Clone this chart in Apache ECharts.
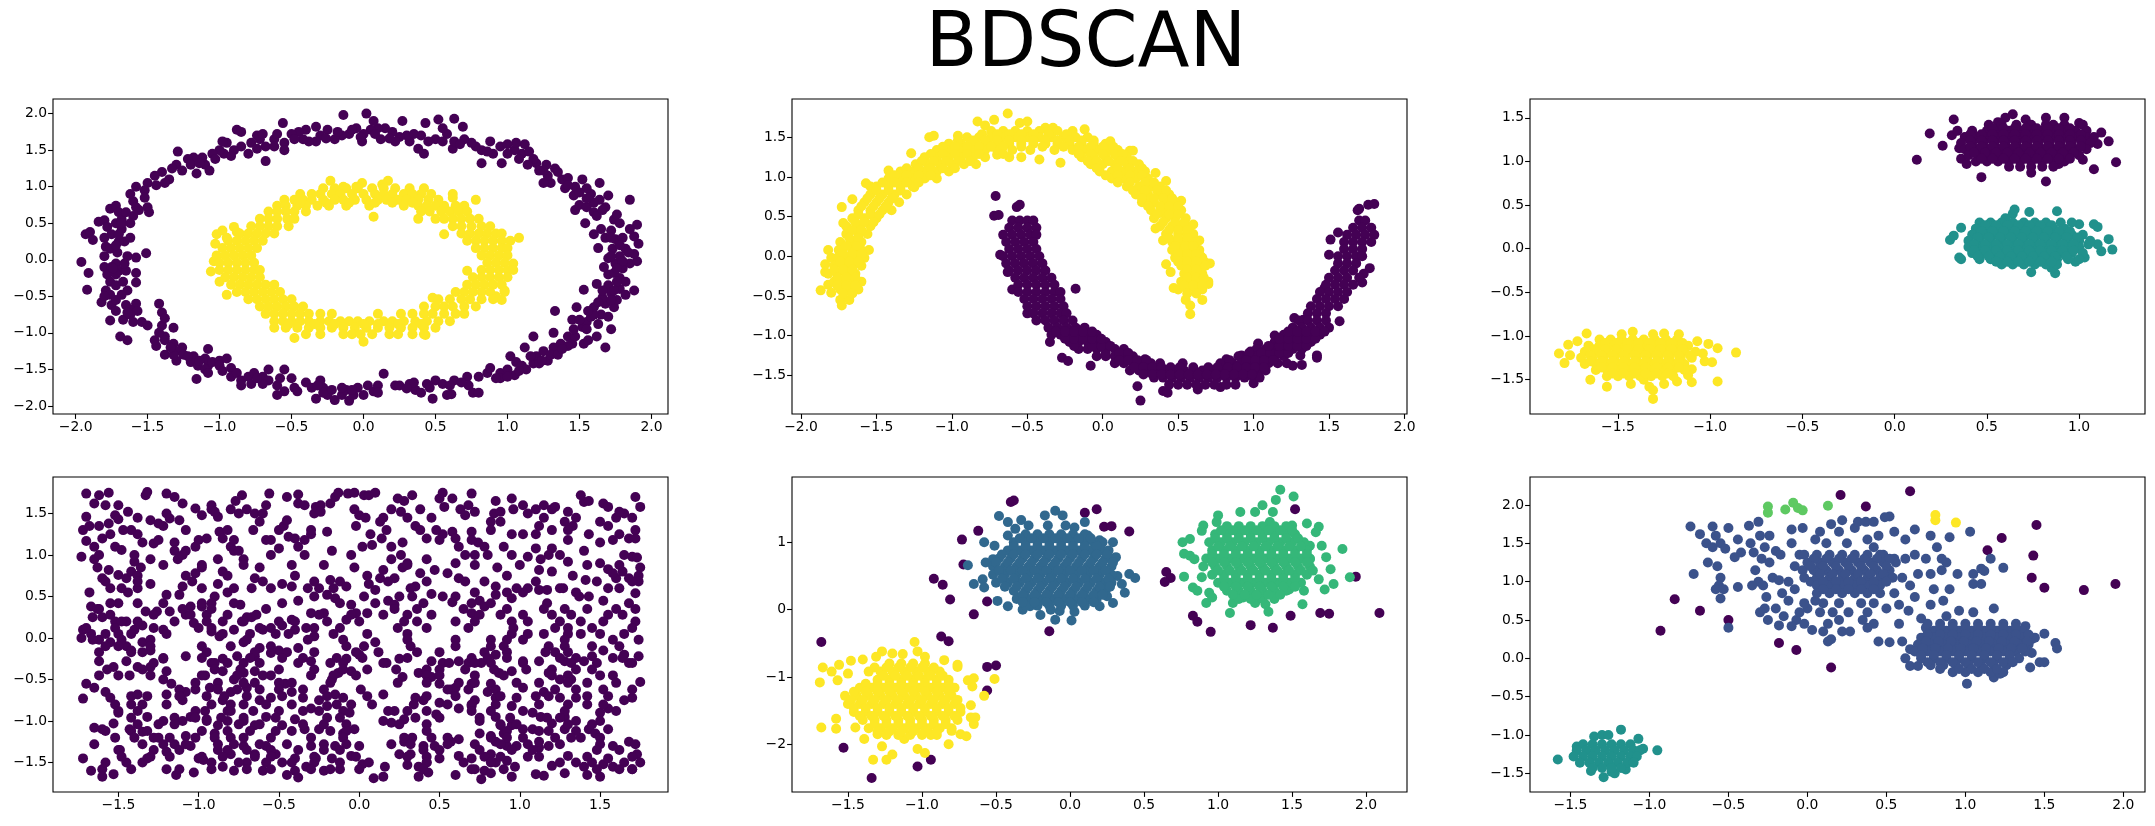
<!DOCTYPE html>
<html><head><meta charset="utf-8">
<script src="https://cdn.jsdelivr.net/npm/echarts@6/dist/echarts.min.js"></script>
<style>html,body{margin:0;padding:0;background:#fff}#c{width:2155px;height:826px}</style></head>
<body><div id="c"></div>
<script>
const titleText="BDSCAN";
const VIOLET="#440154",YELLOW="#fde725",TEAL="#21918c",BLUE5="#31688e",GREEN5="#35b779",BLUE6="#3b528b",GREEN6="#5ec962";

const circlesOuter=[[-1.96,-0.03],[-1.91,-0.18],[-1.92,-0.41],[-1.93,0.35],[-1.9,0.38],[-1.88,0.27],[-1.84,0.52],[-1.8,0.54],[-1.76,0.7],[-1.72,0.74],[-1.7,0.65],[-1.72,0.5],[-1.78,0.45],[-1.8,0.3],[-1.75,0.35],[-1.68,0.42],[-1.66,0.25],[-1.62,0.3],[-1.79,0.18],[-1.8,0.05],[-1.76,0.15],[-1.71,0.1],[-1.64,0.05],[-1.58,0.03],[-1.51,0.09],[-1.8,-0.1],[-1.78,-0.2],[-1.72,-0.05],[-1.7,-0.15],[-1.65,-0.15],[-1.58,-0.18],[-1.58,-0.31],[-1.76,-0.3],[-1.72,-0.35],[-1.67,-0.3],[-1.64,-0.42],[-1.79,-0.42],[-1.76,-0.48],[-1.82,-0.58],[-1.75,-0.62],[-1.65,-0.62],[-1.58,-0.6],[-1.62,-0.68],[-1.57,-0.7],[-1.42,-0.6],[-1.76,-0.83],[-1.67,-0.82],[-1.6,-0.85],[-1.54,-0.85],[-1.5,-0.9],[-1.69,-1.05],[-1.64,-1.1],[-1.4,-0.72],[-1.4,-0.9],[-1.38,-0.8],[-1.32,-0.93],[-1.38,-1.05],[-1.44,-1.18],[-1.38,-1.1],[-1.32,-1.15],[-1.26,-1.2],[-1.38,-1.3],[-1.3,-1.25],[-1.25,-1.3],[-1.3,-1.38],[-1.2,-1.4],[-1.15,-1.45],[-1.08,-1.45],[-1.1,-1.35],[-1.08,-1.22],[-1.1,-1.5],[-1.05,-1.4],[-1.0,-1.38],[-1.16,-1.63],[-1.08,-1.55],[-0.95,-1.35],[-0.92,-1.48],[-0.92,-1.6],[-0.88,-1.55],[-0.85,-1.65],[-0.85,-1.72],[-0.8,-1.6],[-0.76,-1.55],[-0.78,-1.7],[-0.7,-1.6],[-0.66,-1.65],[-0.66,-1.5],[-0.6,-1.72],[-0.55,-1.8],[-0.6,-1.85],[-0.55,-1.5],[-0.5,-1.62],[-0.48,-1.75],[-0.46,-1.8],[-0.4,-1.68],[-0.36,-1.75],[-0.33,-1.9],[-0.3,-1.65],[-0.28,-1.75],[-0.25,-1.85],[-0.2,-1.92],[-0.15,-1.85],[-0.12,-1.78],[-0.1,-1.93],[-0.07,-1.85],[-0.04,-1.75],[0,-1.85],[0.03,-1.72],[0.07,-1.8],[0.1,-1.72],[0.14,-1.56],[0.22,-1.72],[0.25,-1.72],[0.32,-1.7],[0.36,-1.78],[0.4,-1.82],[0.44,-1.7],[0.48,-1.9],[0.5,-1.65],[0.55,-1.7],[0.58,-1.85],[0.61,-1.84],[0.63,-1.65],[0.72,-1.6],[0.73,-1.72],[0.76,-1.82],[0.8,-1.82],[0.8,-1.6],[0.86,-1.55],[0.88,-1.48],[0.95,-1.55],[1.0,-1.5],[1.02,-1.32],[1.06,-1.4],[1.1,-1.45],[1.05,-1.58],[1.13,-1.5],[1.12,-1.2],[1.18,-1.42],[1.2,-1.32],[1.25,-1.25],[1.28,-1.38],[1.32,-1.2],[1.3,-1.3],[1.37,-1.15],[1.18,-1.05],[1.32,-1.0],[1.33,-0.7],[1.42,-1.05],[1.45,-1.15],[1.47,-1.05],[1.53,-1.15],[1.56,-1.1],[1.45,-0.82],[1.48,-0.65],[1.52,-0.92],[1.55,-0.85],[1.58,-0.78],[1.6,-0.65],[1.63,-0.88],[1.65,-0.75],[1.62,-1.05],[1.68,-1.2],[1.72,-0.95],[1.68,-0.6],[1.7,-0.78],[1.74,-0.65],[1.76,-0.55],[1.53,-0.41],[1.62,-0.33],[1.7,-0.35],[1.72,-0.45],[1.78,-0.4],[1.82,-0.48],[1.88,-0.42],[1.67,-0.1],[1.7,-0.2],[1.74,-0.18],[1.78,-0.25],[1.82,-0.3],[1.8,-0.12],[1.75,-0.05],[1.7,0.02],[1.85,-0.05],[1.9,-0.02],[1.88,0.08],[1.91,0.22],[1.82,0.15],[1.73,0.15],[1.63,0.16],[1.68,0.3],[1.75,0.28],[1.8,0.3],[1.88,0.32],[1.9,0.48],[1.85,0.42],[1.6,0.35],[1.65,0.42],[1.54,0.5],[1.47,0.68],[1.5,0.75],[1.55,0.72],[1.6,0.65],[1.68,0.72],[1.62,0.6],[1.74,0.55],[1.76,0.62],[1.78,0.5],[1.85,0.82],[1.7,0.88],[1.64,0.82],[1.58,0.9],[1.52,1.1],[1.64,1.05],[1.55,0.98],[1.46,0.88],[1.47,1.0],[1.4,0.98],[1.38,1.1],[1.3,1.05],[1.25,1.05],[1.28,1.15],[1.33,1.25],[1.27,1.3],[1.2,1.32],[1.18,1.38],[1.1,1.45],[1.05,1.5],[1.12,1.58],[1.0,1.45],[1.06,1.6],[0.96,1.32],[0.95,1.55],[0.9,1.45],[0.82,1.32],[0.82,1.5],[0.78,1.55],[0.75,1.6],[0.7,1.65],[0.62,1.52],[0.63,1.62],[0.58,1.72],[0.5,1.65],[0.52,1.92],[0.55,1.8],[0.63,1.93],[0.69,1.82],[0.42,1.45],[0.38,1.52],[0.4,1.7],[0.43,1.87],[0.32,1.62],[0.27,1.9],[0.3,1.7],[0.25,1.68],[0.2,1.75],[0.15,1.8],[0.1,1.8],[0.12,1.65],[0.05,1.78],[0,1.72],[-0.01,1.62],[0.02,2.0],[-0.14,1.98],[0.07,1.9],[-0.05,1.8],[-0.1,1.72],[-0.15,1.7],[-0.2,1.65],[-0.25,1.78],[-0.3,1.7],[-0.33,1.62],[-0.38,1.62],[-0.33,1.82],[-0.4,1.78],[-0.45,1.75],[-0.5,1.72],[-0.56,1.87],[-0.55,1.6],[-0.62,1.65],[-0.55,1.5],[-0.6,1.72],[-0.68,1.55],[-0.72,1.65],[-0.74,1.7],[-0.68,1.35],[-0.8,1.45],[-0.88,1.78],[-0.85,1.75],[-0.85,1.55],[-0.9,1.5],[-0.95,1.6],[-0.97,1.45],[-1.0,1.5],[-1.05,1.45],[-1.1,1.3],[-1.07,1.22],[-1.12,1.4],[-1.18,1.4],[-1.22,1.38],[-1.2,1.3],[-1.16,1.18],[-1.29,1.48],[-1.3,1.3],[-1.35,1.1],[-1.4,1.2],[-1.45,1.15],[-1.38,1.05],[-1.33,1.25],[-1.5,1.05],[-1.52,0.95],[-1.58,1.0],[-1.6,0.8],[-1.56,0.68],[-1.6,0.6],[-1.5,0.72],[-1.49,0.65],[-1.62,0.9],[-1.68,0.55],[-1.65,0.65],[-0.98,1.62],[-0.78,1.6],[-0.7,1.72],[-0.42,1.65],[-0.18,1.75],[-0.02,1.68],[0.22,1.62],[0.45,1.62],[0.88,1.62],[1.0,1.58],[1.15,1.48],[1.25,1.22],[1.35,1.2],[1.42,1.12],[1.6,0.78],[1.72,0.4],[1.84,0.1],[1.78,0.05],[1.8,-0.02],[1.76,-0.3],[1.74,-0.42],[1.72,-0.55],[1.66,-0.52],[1.6,-0.75],[1.55,-0.95],[1.42,-1.18],[1.35,-1.3],[1.22,-1.42],[1.08,-1.52],[0.95,-1.62],[0.6,-1.72],[0.35,-1.68],[0.1,-1.82],[-0.15,-1.75],[-0.28,-1.82],[-0.7,-1.7],[-1.0,-1.45],[-1.18,-1.32],[-1.32,-1.3],[-1.45,-1.1],[-1.62,-0.75],[-1.72,-0.55],[-1.72,-0.2],[-1.75,-0.1],[-1.7,0.25],[-1.68,0.5],[-1.26,1.22],[-1.14,1.32],[-1.03,1.38],[-0.92,1.42],[-0.74,1.52],[-0.62,1.55],[-0.48,1.65],[-0.26,1.66],[-0.08,1.78],[0.08,1.72],[0.18,1.66],[0.35,1.72],[0.55,1.62],[0.67,1.58],[0.86,1.48],[1.08,1.38],[1.14,1.3],[1.22,1.22],[1.42,1.02],[1.5,0.92],[1.55,0.84],[1.66,0.68],[1.72,0.3],[1.78,0.2],[1.72,0.05],[1.76,-0.12],[1.66,-0.42],[1.63,-0.58],[1.56,-0.7],[1.5,-0.82],[1.46,-0.95],[1.38,-1.22],[1.24,-1.38],[1.16,-1.32],[1.0,-1.6],[0.92,-1.62],[0.68,-1.68],[0.46,-1.75],[0.3,-1.76],[-0.08,-1.78],[-0.22,-1.78],[-0.32,-1.72],[-0.58,-1.62],[-0.74,-1.62],[-0.98,-1.52],[-1.14,-1.38],[-1.22,-1.32],[-1.34,-1.2],[-1.42,-1.0],[-1.64,-0.72],[-1.72,-0.7],[-1.8,-0.5],[-1.68,-0.48],[-1.74,-0.12],[-1.66,-0.05],[-1.72,0.2],[-1.7,0.35],[-1.62,0.5],[-1.58,0.72],[-1.52,0.85],[-1.44,1.02]];
const circlesInner=[[-1.06,-0.16],[-1.04,-0.02],[-1.03,0.22],[-1.02,0.35],[-0.98,0.4],[-0.95,0.3],[-0.9,0.45],[-0.88,0.38],[-1.0,-0.3],[-0.95,-0.48],[-0.48,-1.07],[0,-1.12],[0.17,1.08],[0.13,1.03],[-0.01,1.05],[-0.23,1.08],[0.07,0.59],[0.56,0.35],[0.78,0.82],[0.62,0.85],[1.08,0.3],[1.04,-0.05],[0.98,-0.42],[0.96,-0.55],[0.92,-0.5],[0.72,-0.15],[0.48,-0.52],[0.43,-1.03],[-0.14,1.0],[-0.05,1.0]];
const circlesInnerRows=[[.98,[-.28,-.2,-.12,-.04,.06,.14,.22,.32,.42]],[.9,[-.44,-.36,-.3,-.22,-.16,-.08,0,.08,.14,.2,.28,.34,.4,.47,.62]],[.82,[-.55,-.48,-.42,-.36,-.28,-.2,-.14,-.06,.02,.1,.16,.24,.3,.38,.45,.52]],[.74,[-.6,-.54,-.46,-.4,-.32,-.24,-.12,.04,.28,.38,.44,.5,.56,.64,.7]],[.66,[-.66,-.6,-.54,-.48,-.4,.4,.46,.54,.6,.66,.72]],[.56,[-.72,-.66,-.6,-.53,-.48,.38,.5,.56,.62,.68,.74,.8]],[.46,[-.78,-.72,-.66,-.6,-.52,.62,.68,.75,.82,.88]],[.36,[-.86,-.8,-.74,-.68,-.62,.68,.74,.8,.86,.92,.96]],[.26,[-.94,-.88,-.82,-.76,-.7,.72,.78,.84,.9,.96,1.02]],[.16,[-.98,-.92,-.86,-.8,-.74,.78,.84,.9,.96,1.0]],[.06,[-1.02,-.96,-.9,-.84,-.78,.82,.88,.94,1.0]],[-.04,[-1.0,-.94,-.88,-.82,-.76,.86,.92,.98]],[-.14,[-1,-.94,-.88,-.82,-.76,-.72,.82,.88,.94,1.0,1.04]],[-.24,[-.96,-.9,-.84,-.78,-.72,.76,.82,.88,.94,1.0]],[-.34,[-.92,-.86,-.8,-.74,-.68,-.62,.72,.78,.84,.9,.96]],[-.44,[-.88,-.82,-.76,-.7,-.64,-.58,.64,.7,.76,.82,.88,.98]],[-.54,[-.8,-.74,-.68,-.62,-.56,-.5,.52,.6,.68,.74,.82,.9]],[-.64,[-.72,-.66,-.6,-.54,-.48,-.42,.42,.5,.56,.62,.7,.78]],[-.74,[-.68,-.62,-.56,-.5,-.44,-.38,-.3,-.22,.1,.26,.34,.42,.48,.56,.64,.7]],[-.84,[-.62,-.56,-.5,-.44,-.38,-.3,-.24,-.16,-.1,-.04,.04,.14,.2,.28,.36,.44,.52,.6]],[-.93,[-.62,-.54,-.46,-.38,-.3,-.22,-.14,-.06,.02,.1,.18,.26,.34,.42,.5]],[-1.02,[-.4,-.3,-.14,-.08,-.02,.06,.18,.24,.34,.42]],[.78,[-.44,-.26,-.1,.08,.2,.34]],[-.88,[-.52,-.34,-.2,0,.1,.24,.4]]];
const moonYellow=[[-1.87,-0.43],[-1.82,-0.36],[-1.8,-0.46],[-1.84,-0.2],[-1.84,-0.1],[-1.8,-0.02],[-1.82,0.08],[-1.75,0.08],[-1.74,-0.55],[-1.73,-0.62],[-1.68,-0.55],[-1.72,0.42],[-1.73,0.62],[-1.66,0.72],[-1.54,0.88],[-1.57,0.92],[-1.42,1.08],[-1.35,0.68],[-1.27,1.3],[-1.25,0.87],[-1.15,1.5],[-1.12,1.52],[-0.96,1.52],[-0.83,1.7],[-0.78,1.65],[-0.72,1.72],[-0.63,1.8],[-0.55,1.68],[-0.5,1.7],[-0.38,1.62],[-0.33,1.62],[-0.12,1.6],[-0.28,1.18],[-0.54,1.25],[-0.7,1.28],[-0.42,1.22],[0.05,1.45],[0.18,1.33],[0.2,1.33],[0.25,0.78],[0.3,0.7],[0.35,1.05],[0.38,0.55],[0.42,0.95],[0.4,0.2],[0.35,0.35],[0.52,0.7],[0.6,0.4],[0.42,-0.1],[0.45,-0.2],[0.47,-0.4],[0.55,-0.55],[0.58,-0.62],[0.58,-0.73],[0.66,-0.55],[0.71,-0.09],[0.7,-0.35],[0.64,0.2],[0.65,0.0],[0.68,-0.08]];
const moonYellowRows=[[1.58,[-.74,-.66,-.58,-.5,-.42,-.3,-.2]],[1.5,[-.9,-.82,-.74,-.66,-.58,-.5,-.42,-.34,-.26,-.18,-.1]],[1.42,[-1.02,-.94,-.86,-.78,-.7,-.62,-.54,-.46,-.38,-.3,-.22,-.14,-.06,.02]],[1.34,[-1.1,-1.02,-.94,-.86,-.78,-.7,-.6,-.48,-.32,-.2,-.12,-.04,.04,.1]],[1.25,[-1.18,-1.1,-1.02,-.94,-.86,-.78,-.62,-.14,-.06,.02,.1,.16]],[1.16,[-1.24,-1.16,-1.08,-1,-.92,-.84,-.08,0,.08,.16,.24]],[1.07,[-1.34,-1.26,-1.18,-1.1,-1.02,-.02,.06,.14,.22,.28]],[.98,[-1.42,-1.34,-1.26,-1.18,-1.1,.06,.14,.22,.3]],[.88,[-1.5,-1.42,-1.34,-1.26,.16,.24,.32,.38]],[.78,[-1.54,-1.46,-1.38,-1.3,.22,.3,.38,.44]],[.68,[-1.58,-1.5,-1.42,.26,.34,.42,.48]],[.58,[-1.62,-1.54,-1.46,-1.4,.32,.4,.46,.52]],[.48,[-1.66,-1.58,-1.5,.34,.42,.48,.55]],[.38,[-1.7,-1.62,-1.54,.38,.46,.52,.58]],[.28,[-1.7,-1.62,-1.56,.42,.5,.56,.6]],[.18,[-1.74,-1.66,-1.6,.46,.52,.58,.62]],[.08,[-1.74,-1.66,-1.6,-1.55,.46,.52,.58,.64]],[-.02,[-1.76,-1.7,-1.64,-1.58,.48,.54,.6,.66]],[-.12,[-1.78,-1.72,-1.66,-1.6,.52,.58,.64,.68]],[-.22,[-1.82,-1.76,-1.7,-1.64,.54,.6,.66]],[-.32,[-1.78,-1.72,-1.66,-1.6,.52,.58,.64,.7]],[-.42,[-1.74,-1.68,-1.62,.5,.56,.62,.66]],[1.54,[-.8,-.7,-.62,-.54,-.46,-.36,-.24]],[1.46,[-.96,-.86,-.78,-.7,-.62,-.54,-.46,-.38,-.3,-.22,-.14,-.06]],[1.38,[-1.06,-.98,-.9,-.82,-.74,-.66,-.54,-.4,-.26,-.16,-.08,0,.07]],[1.29,[-1.14,-1.06,-.98,-.9,-.82,-.66,-.16,-.08,0,.08,.13]],[1.2,[-1.2,-1.12,-1.04,-.96,-.88,-.1,-.04,.04,.12,.2]],[1.11,[-1.3,-1.22,-1.14,-1.06,-.98,-.04,.1,.18,.26]],[1.02,[-1.38,-1.3,-1.22,-1.14,.02,.1,.18,.26]],[.93,[-1.46,-1.38,-1.3,-1.22,.1,.18,.28,.34]],[.83,[-1.5,-1.42,-1.34,.2,.28,.36,.42]],[.73,[-1.56,-1.48,-1.4,.26,.34,.4,.46]],[.63,[-1.6,-1.52,-1.44,.3,.38,.44,.5]],[.53,[-1.62,-1.54,-1.48,.36,.44,.5]],[.43,[-1.64,-1.58,-1.52,.4,.48,.54]],[.33,[-1.66,-1.6,.44,.5,.56]],[.23,[-1.68,-1.62,.44,.5,.56]],[.13,[-1.7,-1.63,.48,.55,.6]],[.03,[-1.72,-1.66,-1.6,.5,.56,.62]],[-.07,[-1.74,-1.68,-1.62,.5,.56,.62]],[-.17,[-1.78,-1.72,-1.66,.56,.62]],[-.27,[-1.76,-1.7,-1.64,.56,.62,.67]],[-.37,[-1.76,-1.7,-1.64,.54,.6,.66]],[-.47,[-1.72,-1.66,.56,.62]]];
const moonViolet=[[-0.71,0.76],[-0.72,0.51],[-0.69,0.52],[-0.57,0.62],[-0.55,0.65],[-0.18,-0.41],[-0.68,0.02],[-0.63,-0.2],[-0.6,-0.42],[-0.5,-0.72],[-0.35,-1.08],[-0.27,-1.28],[-0.23,-1.32],[-0.08,-1.38],[0.23,-1.64],[0.25,-1.82],[0.4,-1.7],[0.43,-1.72],[0.63,-1.68],[0.78,-1.65],[1.0,-1.6],[1.22,-1.35],[1.26,-1.38],[1.32,-1.37],[1.31,-1.25],[1.42,-1.28],[1.42,-1.25],[1.27,-0.78],[1.33,-0.8],[1.51,0.21],[1.56,0.3],[1.7,0.6],[1.69,0.58],[1.76,0.65],[1.8,0.66],[1.77,-0.15],[1.73,-0.22],[1.72,-0.33],[1.5,0.02],[1.47,-0.4],[1.57,-0.82],[0.82,-1.3],[0.92,-1.25],[0.98,-1.2],[1.03,-1.1],[1.14,-1.0],[0.53,-1.35],[0.28,-1.3]];
const moonVioletRows=[[.45,[-.6,-.55,-.5,-.46,1.7,1.74]],[.36,[-.62,-.56,-.5,-.44,1.66,1.72,1.78]],[.27,[-.66,-.6,-.54,-.48,-.44,1.62,1.68,1.74,1.8]],[.18,[-.64,-.58,-.52,-.46,1.6,1.66,1.72,1.78]],[.09,[-.62,-.56,-.5,-.44,1.6,1.66,1.72]],[0,[-.66,-.6,-.54,-.48,-.42,1.56,1.62,1.68,1.72]],[-.09,[-.64,-.58,-.52,-.46,-.4,1.56,1.62,1.68]],[-.18,[-.62,-.56,-.5,-.44,-.38,1.54,1.6,1.66]],[-.27,[-.58,-.52,-.46,-.4,-.34,1.5,1.56,1.62,1.7]],[-.36,[-.56,-.5,-.44,-.38,-.32,1.48,1.54,1.6,1.66]],[-.45,[-.56,-.5,-.44,-.38,-.32,-.28,1.44,1.5,1.56,1.62]],[-.54,[-.52,-.46,-.4,-.34,-.28,1.42,1.48,1.54,1.6]],[-.63,[-.5,-.44,-.38,-.32,-.26,1.38,1.44,1.5,1.56]],[-.72,[-.46,-.4,-.34,-.28,-.24,1.36,1.42,1.48]],[-.81,[-.44,-.38,-.32,-.26,-.2,1.3,1.36,1.42,1.48]],[-.9,[-.36,-.3,-.24,-.18,-.12,1.26,1.32,1.38,1.44,1.5]],[-.99,[-.34,-.28,-.22,-.16,-.1,-.04,1.2,1.26,1.32,1.38,1.44]],[-1.08,[-.22,-.16,-.1,-.04,.02,1.14,1.2,1.26,1.32,1.38]],[-1.17,[-.16,-.1,-.04,.02,.08,.14,1.02,1.08,1.14,1.2,1.26,1.32]],[-1.26,[-.04,.02,.08,.14,.2,.9,.96,1.02,1.08,1.14,1.2]],[-1.35,[.08,.14,.2,.26,.32,.38,.78,.86,.92,.98,1.04,1.1,1.16]],[-1.44,[.18,.24,.3,.36,.42,.48,.54,.6,.66,.72,.8,.86,.92,.98,1.04,1.08]],[-1.53,[.34,.4,.46,.52,.58,.64,.7,.76,.82,.88,.94,1.0,1.04]],[-1.62,[.44,.5,.56,.62,.68,.74,.82,.88]],[-1.22,[.02,.11,.17,.97,1.05,1.11,1.17,1.23]],[-1.31,[.11,.17,.23,.29,.84,.95,1.01,1.07,1.13]],[-1.4,[.21,.27,.33,.39,.45,.51,.6,.7,.76,.83,.89,.95,1.01,1.07]],[-1.49,[.27,.33,.39,.45,.51,.57,.63,.69,.75,.81,.87,.93,.99]],[-1.13,[-.19,-.07,-.01,.05,1.1,1.17,1.23,1.29,1.35]],[-1.04,[-.25,-.19,-.13,-.07,-.01,1.17,1.23,1.29,1.35,1.41]],[-.95,[-.31,-.25,-.19,-.13,-.07,1.23,1.29,1.35,1.41,1.47]]];
const blobs3Violet=[[0.12,1.02],[0.19,1.32],[0.26,1.18],[0.32,1.48],[0.31,1.3],[0.34,1.35],[0.35,1.15],[0.36,1.03],[0.39,0.97],[0.47,0.82],[0.51,1.42],[0.56,1.45],[0.6,1.5],[0.64,1.54],[0.71,1.48],[0.74,0.87],[0.82,1.5],[0.82,0.77],[0.92,1.5],[1.0,1.44],[1.08,0.91],[1.12,1.33],[1.16,1.23],[1.2,0.99],[1.1,1.2],[1.02,1.02],[0.89,0.97]];
const blobs3VioletRows=[[1.42,[.58,.66,.74,.82,.86,.92,1.02]],[1.35,[.42,.5,.56,.62,.68,.74,.8,.86,.92,.98,1.04]],[1.28,[.38,.44,.5,.56,.62,.68,.74,.8,.86,.92,.98,1.04,1.08]],[1.21,[.36,.42,.48,.54,.6,.66,.72,.78,.84,.9,.96,1.02,1.06]],[1.14,[.38,.44,.5,.56,.62,.68,.74,.8,.86,.92,.98,1.04]],[1.07,[.4,.46,.52,.58,.64,.7,.76,.82,.88,.94,1.0]],[1.0,[.44,.5,.56,.62,.68,.74,.8,.86,.92]],[.94,[.62,.68,.74,.8,.86]],[1.38,[.53,.59,.65,.71,.77,.83,.89,.95]],[1.31,[.41,.47,.53,.59,.65,.71,.77,.83,.89,.95,1.01]],[1.24,[.41,.47,.53,.59,.65,.71,.77,.83,.89,.95,1.01]],[1.17,[.41,.47,.53,.59,.65,.71,.77,.83,.89,.95,1.01]],[1.1,[.43,.49,.55,.61,.67,.73,.79,.85,.91,.97]],[1.03,[.47,.53,.59,.65,.71,.77,.83,.89,.95]]];
const blobs3Teal=[[0.3,0.1],[0.32,0.15],[0.36,0.24],[0.35,-0.1],[0.36,-0.12],[0.64,0.4],[0.65,0.45],[0.73,0.42],[0.74,-0.27],[0.87,-0.28],[0.88,0.43],[0.98,-0.15],[1.0,0.28],[1.08,0.28],[1.1,0.25],[1.12,-0.03],[1.16,0.11],[1.18,-0.01],[1.1,0.05],[1.03,-0.1],[1.05,0.05],[0.6,0.35],[0.85,-0.22]];
const blobs3TealRows=[[.3,[.46,.52,.58,.64,.7,.76,.82,.9,.96]],[.23,[.44,.5,.56,.62,.68,.74,.8,.86,.92]],[.16,[.42,.48,.54,.6,.66,.72,.78,.84,.9,.96,1.02]],[.09,[.4,.46,.52,.58,.64,.7,.76,.82,.88,.94,1.0,1.06]],[.02,[.4,.46,.52,.58,.64,.7,.76,.82,.88,.94,1.0]],[-.05,[.42,.48,.54,.6,.66,.72,.78,.84,.9,.96,1.02]],[-.12,[.46,.52,.58,.64,.7,.76,.82,.88,.94,1.0]],[-.18,[.58,.64,.7,.76,.82,.88]],[.27,[.49,.55,.61,.67,.73,.79,.85]],[.2,[.47,.53,.59,.65,.71,.77,.83,.89,.95]],[.13,[.45,.51,.57,.63,.69,.75,.81,.87,.93,.99]],[.05,[.43,.49,.55,.61,.67,.73,.79,.85,.91,.97]],[-.02,[.43,.49,.55,.61,.67,.73,.79,.85,.91,.97]],[-.09,[.45,.51,.57,.63,.69,.75,.81,.87,.93]],[-.15,[.55,.61,.67,.73,.79,.85]]];
const blobs3Yellow=[[-1.82,-1.2],[-1.79,-1.31],[-1.77,-1.1],[-1.76,-1.22],[-1.72,-1.06],[-1.67,-0.97],[-1.65,-1.5],[-1.56,-1.58],[-1.48,-0.98],[-1.43,-1.55],[-1.42,-0.95],[-1.36,-1.5],[-1.33,-1.58],[-1.31,-0.98],[-1.31,-1.62],[-1.31,-1.72],[-1.25,-1.55],[-1.25,-0.97],[-1.18,-1.52],[-1.17,-0.98],[-1.1,-1.53],[-1.07,-1.06],[-1.04,-1.2],[-1.03,-1.29],[-1.01,-1.09],[-0.99,-1.3],[-0.96,-1.14],[-0.96,-1.52],[-0.86,-1.19],[-1.1,-1.38],[-1.12,-1.45]];
const blobs3YellowRows=[[-1.04,[-1.6,-1.54,-1.48,-1.42,-1.36,-1.3,-1.24,-1.18]],[-1.11,[-1.66,-1.6,-1.54,-1.48,-1.42,-1.36,-1.3,-1.24,-1.18,-1.12]],[-1.18,[-1.68,-1.62,-1.56,-1.5,-1.44,-1.38,-1.32,-1.26,-1.2,-1.14,-1.08]],[-1.25,[-1.7,-1.64,-1.58,-1.52,-1.46,-1.4,-1.34,-1.28,-1.22,-1.16,-1.1]],[-1.32,[-1.68,-1.62,-1.56,-1.5,-1.44,-1.38,-1.32,-1.26,-1.2,-1.14]],[-1.39,[-1.62,-1.56,-1.5,-1.44,-1.38,-1.32,-1.26,-1.2,-1.14]],[-1.46,[-1.56,-1.5,-1.44,-1.38,-1.32,-1.26,-1.2]],[-1.08,[-1.57,-1.51,-1.45,-1.39,-1.33,-1.27,-1.21,-1.15]],[-1.15,[-1.63,-1.57,-1.51,-1.45,-1.39,-1.33,-1.27,-1.21,-1.15]],[-1.22,[-1.65,-1.59,-1.53,-1.47,-1.41,-1.35,-1.29,-1.23,-1.17,-1.11]],[-1.29,[-1.65,-1.59,-1.53,-1.47,-1.41,-1.35,-1.29,-1.23,-1.17]],[-1.36,[-1.59,-1.53,-1.47,-1.41,-1.35,-1.29,-1.23,-1.17]],[-1.43,[-1.53,-1.47,-1.41,-1.35,-1.29,-1.23]]];
const uniformPts=[[-1.7,1.74],[-1.65,1.62],[-1.62,1.72],[-1.58,1.6],[-1.56,1.75],[-1.7,1.46],[-1.72,1.3],[-1.68,1.35],[-1.62,1.35],[-1.56,1.38],[-1.52,1.48],[-1.5,1.43],[-1.5,1.6],[-1.7,1.17],[-1.65,1.1],[-1.6,1.2],[-1.55,1.25],[-1.52,1.1],[-1.48,1.06],[-1.73,0.98],[-1.65,0.95],[-1.63,0.85],[-1.6,0.72],[-1.56,0.82],[-1.5,0.76],[-1.45,0.72],[-1.42,0.8],[-1.38,0.75],[-1.4,0.92],[-1.36,0.85],[-1.3,0.95],[-1.28,1.14],[-1.35,1.15],[-1.38,1.25],[-1.38,1.45],[-1.42,1.3],[-1.3,1.42],[-1.33,1.72],[-1.32,1.76],[-1.2,1.74],[-1.2,1.5],[-1.22,1.35],[-1.25,1.38],[-1.15,1.7],[-1.1,1.62],[-1.12,1.42],[-1.18,1.44],[-1.15,1.15],[-1.15,1.05],[-1.13,0.95],[-1.08,1.05],[-1.02,1.1],[-1.0,1.18],[-0.95,1.2],[-0.98,1.48],[-1.02,1.56],[-0.92,1.55],[-0.92,1.6],[-0.88,1.46],[-0.87,1.28],[-0.85,1.2],[-0.82,1.3],[-0.8,1.1],[-0.78,1.05],[-0.75,1.05],[-0.8,1.55],[-0.77,1.65],[-0.73,1.72],[-0.75,1.5],[-0.7,1.55],[-0.65,1.5],[-0.6,1.5],[-0.58,1.6],[-0.56,1.74],[-0.62,1.4],[-0.45,1.7],[-0.38,1.73],[-0.38,1.62],[-0.34,1.6],[-0.5,1.3],[-0.47,1.35],[-0.45,1.42],[-0.44,1.22],[-0.55,1.18],[-0.5,1.08],[-0.4,1.2],[-0.38,1.1],[-0.3,1.25],[-0.28,1.5],[-0.27,1.58],[-0.24,1.6],[-0.18,1.62],[-0.15,1.7],[-0.13,1.75],[-0.07,1.74],[-0.2,1.28],[-0.17,1.05],[-0.03,1.75],[0.03,1.72],[0.06,1.72],[0.1,1.75],[-0.03,1.55],[0,1.48],[0.04,1.45],[-0.02,1.35],[0.07,1.25],[0.13,1.4],[0.15,1.45],[0.2,1.55],[0.02,1.1],[0.08,1.12],[0.14,1.2],[0.2,1.1],[0.27,1.15],[0.28,1.65],[0.24,1.68],[0.33,1.72],[0.3,1.45],[0.35,1.35],[0.38,1.3],[0.42,1.2],[0.45,1.45],[0.38,1.55],[0.5,1.68],[0.52,1.75],[0.53,1.58],[0.58,1.68],[0.52,1.25],[0.58,1.28],[0.6,1.2],[0.62,1.1],[0.63,1.55],[0.68,1.6],[0.7,1.74],[0.66,1.48],[0.7,1.28],[0.74,1.15],[0.78,1.1],[0.72,1.0],[0.8,1.0],[0.85,1.65],[0.84,1.5],[0.82,1.4],[0.88,1.4],[0.95,1.68],[0.96,1.55],[1.02,1.6],[0.95,1.25],[1.02,1.25],[0.9,1.1],[0.95,1.0],[1.05,1.5],[1.1,1.55],[1.15,1.6],[1.2,1.55],[1.22,1.58],[1.12,1.35],[1.15,1.45],[1.2,1.3],[1.1,1.25],[1.28,1.4],[1.33,1.35],[1.35,1.45],[1.4,1.64],[1.38,1.72],[1.43,1.65],[1.52,1.62],[1.55,1.58],[1.5,1.4],[1.55,1.35],[1.43,1.25],[1.4,1.05],[1.5,1.15],[1.6,1.45],[1.65,1.5],[1.7,1.45],[1.72,1.7],[1.75,1.58],[1.62,1.25],[1.68,1.2],[1.72,1.2],[1.7,0.98],[1.73,0.97],[1.75,0.85],[1.74,0.75],[1.74,0.68],[1.68,0.72],[1.6,0.72],[1.64,0.8],[1.5,0.9],[1.55,0.83],[1.58,0.78],[1.72,0.54],[1.55,0.6],[1.52,0.45],[1.41,0.7],[1.43,0.5],[1.37,0.5],[1.1,1.08],[1.13,0.95],[1.12,0.82],[1.2,0.8],[1.2,1.08],[1.25,1.0],[1.3,0.92],[1.33,0.75],[1.27,0.6],[1.35,0.55],[1.05,0.98],[1.05,0.6],[1.02,0.55],[1.12,0.58],[1.17,0.58],[0.92,0.75],[0.92,0.55],[0.86,0.85],[0.85,0.62],[0.78,0.68],[0.72,0.55],[0.7,0.3],[0.75,0.45],[0.78,0.38],[0.85,0.52],[0.95,0.48],[0.65,0.35],[0.6,0.5],[0.58,0.43],[0.52,0.5],[0.45,0.53],[0.47,0.82],[0.42,0.95],[0.38,0.78],[0.55,0.78],[0.6,0.9],[0.62,0.72],[0.35,0.62],[0.33,0.5],[0.3,0.9],[0.27,0.85],[0.22,0.72],[0.2,0.95],[0.15,0.82],[0.13,0.72],[0.1,0.58],[0.06,0.65],[0.05,0.75],[-0.03,0.85],[-0.12,0.68],[-0.18,0.7],[-0.2,0.52],[-0.15,0.48],[-0.25,0.6],[-0.28,0.5],[-0.3,0.3],[-0.22,0.3],[-0.08,0.62],[0.03,0.5],[0.18,0.45],[0.22,0.4],[0.25,0.5],[-0.05,0.4],[-0.02,0.3],[0.05,0.3],[-0.08,0.22],[-0.4,0.75],[-0.42,0.62],[-0.38,0.45],[-0.48,0.65],[-0.55,0.6],[-0.65,0.72],[-0.62,0.85],[-0.67,0.6],[-0.72,0.95],[-0.74,0.4],[-0.7,0.25],[-0.85,0.8],[-0.82,0.75],[-0.88,0.65],[-0.82,0.55],[-0.9,0.5],[-0.88,0.95],[-0.98,0.85],[-1.02,0.78],[-1.08,0.75],[-1.1,0.62],[-1.12,0.52],[-1.2,0.52],[-1.05,0.38],[-1.08,0.28],[-0.98,0.38],[-0.92,0.42],[-0.95,0.28],[-1.18,0.32],[-1.26,0.32],[-1.33,0.32],[-1.3,0.65],[-1.38,0.6],[-1.44,0.55],[-1.5,0.42],[-1.55,0.6],[-1.62,0.35],[-1.67,0.38],[-1.68,0.55],[-1.66,0.25],[-1.6,0.25],[-1.52,0.2],[-1.45,0.2],[-1.4,0.1],[-1.35,0.15],[-1.5,0.05],[-1.67,0.05],[-1.72,0.1],[-1.73,0],[-1.62,-0.02],[-1.55,-0.05],[-1.62,-0.17],[-1.45,-0.1],[-1.42,-0.15],[-1.35,-0.05],[-1.3,-0.15],[-1.22,0.1],[-1.15,0.2],[-1.03,0.18],[-0.92,0.08],[-0.85,0.2],[-0.87,0.02],[-0.73,0.2],[-0.67,0.25],[-0.78,0.1],[-0.68,0.05],[-0.6,0.1],[-0.48,0.15],[-0.42,0.22],[-0.4,0.1],[-0.33,0.12],[-0.28,0.02],[-0.38,-0.12],[-0.5,-0.15],[-0.55,-0.18],[-0.62,-0.12],[-0.72,-0.05],[-0.76,-0.22],[-0.72,-0.3],[-0.65,-0.22],[-0.85,-0.25],[-0.92,-0.3],[-0.98,-0.1],[-1.08,-0.22],[-0.85,-0.4],[-1.22,-0.25],[-1.2,-0.4],[-1.3,-0.35],[-1.38,-0.35],[-1.45,-0.28],[-1.53,-0.35],[-1.57,-0.38],[-1.5,-0.45],[-1.43,-0.45],[-1.62,-0.28],[-1.7,-0.55],[-1.65,-0.6],[-1.58,-0.65],[-1.72,-0.73],[-1.55,-0.72],[-1.5,-0.9],[-1.42,-0.7],[-1.38,-0.68],[-1.35,-0.8],[-1.32,-0.95],[-1.22,-0.5],[-1.17,-0.55],[-1.2,-0.68],[-1.08,-0.65],[-1.02,-0.62],[-0.96,-0.45],[-0.93,-0.6],[-0.95,-0.7],[-0.92,-0.8],[-0.85,-0.75],[-0.8,-0.65],[-0.78,-0.5],[-0.72,-0.42],[-0.65,-0.4],[-0.7,-0.6],[-0.62,-0.75],[-0.55,-0.72],[-0.55,-0.45],[-0.5,-0.38],[-0.46,-0.55],[-0.42,-0.65],[-0.35,-0.72],[-0.3,-0.28],[-0.38,-0.3],[-0.25,-0.75],[-0.2,-0.82],[-0.15,-0.68],[-0.1,-0.72],[-0.05,-0.8],[0.01,-0.62],[-0.17,-0.5],[-0.13,-0.42],[-0.08,-0.25],[-0.05,-0.4],[0,-0.2],[0.1,-0.05],[0.17,-0.3],[0.25,-0.25],[0.27,-0.47],[0.15,-0.68],[0.37,-0.42],[0.45,-0.28],[0.45,-0.47],[0.5,-0.55],[0.57,-0.62],[0.62,-0.28],[0.68,-0.3],[0.76,-0.3],[0.85,-0.2],[0.87,-0.42],[0.82,-0.55],[0.95,-0.4],[1.02,-0.28],[1.12,-0.28],[1.18,-0.42],[1.25,-0.5],[1.28,-0.28],[1.32,-0.5],[1.4,-0.28],[1.45,-0.22],[1.52,-0.15],[1.58,-0.45],[1.65,-0.2],[1.68,-0.3],[1.74,-0.22],[1.75,-0.53],[1.7,-0.72],[1.65,-0.75],[1.55,-0.85],[1.5,-0.9],[1.35,-0.72],[1.25,-0.72],[1.15,-0.65],[1.02,-0.6],[0.98,-0.72],[0.85,-0.72],[0.95,-0.82],[0.8,-0.65],[0.72,-0.75],[0.6,-0.6],[0.7,-0.55],[0.62,-0.85],[0.5,-0.78],[0.4,-0.75],[0.35,-0.72],[0.3,-0.88],[0.22,-0.88],[0.2,-1.02],[0.15,-1.0],[0.28,-0.98],[0.48,-0.92],[0.7,-0.82],[0.75,-1.0],[0.85,-0.95],[0.88,-1.05],[0.9,-1.15],[0.85,-1.25],[0.95,-1.05],[1.02,-1.1],[1.08,-1.1],[1.08,-0.9],[1.13,-0.95],[1.2,-1.03],[1.28,-0.95],[1.22,-1.2],[1.18,-1.3],[1.12,-1.32],[1.05,-1.28],[0.98,-1.3],[0.92,-1.3],[0.82,-1.18],[0.75,-1.15],[0.62,-1.22],[0.57,-1.25],[0.45,-1.2],[0.4,-1.3],[0.33,-1.2],[0.28,-1.25],[0.2,-1.28],[0.25,-1.4],[0.32,-1.4],[0.37,-1.55],[0.42,-1.5],[0.47,-1.3],[0.5,-1.45],[0.62,-1.42],[0.7,-1.45],[0.72,-1.58],[0.78,-1.6],[0.82,-1.4],[0.85,-1.5],[0.92,-1.48],[0.97,-1.55],[0.95,-1.67],[0.76,-1.7],[0.82,-1.63],[0.6,-1.65],[0.43,-1.62],[0.37,-1.67],[0.3,-1.53],[0.16,-1.55],[0.15,-1.67],[0.09,-1.69],[1.1,-1.64],[1.15,-1.66],[1.05,-1.43],[1.12,-1.25],[1.28,-1.63],[1.2,-1.54],[1.3,-1.42],[1.35,-1.5],[1.4,-1.55],[1.42,-1.65],[1.5,-1.67],[1.52,-1.52],[1.58,-1.55],[1.62,-1.35],[1.55,-1.45],[1.58,-1.3],[1.68,-1.25],[1.73,-1.4],[1.7,-1.58],[1.75,-1.5],[1.43,-1.1],[1.35,-1.0],[1.28,-1.1],[1.38,-1.2],[1.47,-1.15],[1.5,-1.0],[1.55,-1.1],[-1.72,-1.45],[-1.67,-1.6],[-1.6,-1.58],[-1.6,-1.67],[-1.53,-1.64],[-1.6,-1.1],[-1.65,-1.08],[-1.53,-1.03],[-1.65,-1.28],[-1.49,-1.35],[-1.45,-1.5],[-1.43,-1.1],[-1.35,-1.13],[-1.28,-1.2],[-1.32,-1.45],[-1.2,-1.58],[-1.14,-1.65],[-1.2,-1.37],[-1.15,-1.28],[-1.22,-1.0],[-1.1,-1.0],[-1.05,-0.95],[-1.08,-1.18],[-1.05,-1.3],[-1.0,-1.45],[-1.03,-1.62],[-0.97,-1.47],[-0.9,-1.15],[-0.88,-1.05],[-0.95,-1.0],[-0.88,-1.35],[-0.85,-1.55],[-0.78,-1.6],[-0.8,-1.4],[-0.8,-1.2],[-0.72,-1.3],[-0.7,-1.5],[-0.65,-1.4],[-0.6,-1.6],[-0.58,-1.3],[-0.52,-1.4],[-0.48,-1.5],[-0.45,-1.65],[-0.4,-1.6],[-0.38,-1.68],[-0.4,-1.45],[-0.33,-1.55],[-0.3,-1.3],[-0.27,-1.45],[-0.22,-1.6],[-0.17,-1.45],[-0.12,-1.58],[-0.15,-1.3],[-0.1,-1.15],[-0.05,-1.42],[0,-1.3],[0.02,-1.52],[-0.03,-1.1],[-0.06,-0.9],[-0.65,-1.05],[-0.72,-1.0],[-0.58,-0.95],[-0.48,-1.05],[-0.4,-0.98],[-0.34,-1.1],[-0.25,-1.1],[-0.3,-0.85],[-0.82,-0.88],[-0.95,-0.98],[-0.82,-1.0],[-1.25,-1.2],[-1.1,-0.75]];
const uniformRows=[[1.52,[-1.44,-.9,-.24,.26,.72,.88,1.3,1.62]],[1.3,[-1.47,-1.08,-.66,-.3,.17,.48,.82,1.3,1.72]],[1.18,[-1.25,-.78,-.58,-.34,.5,.7,1.3,1.58]],[1.0,[-1.62,-1.4,-1.1,-.55,-.34,-.05,.26,.66,1.18,1.65]],[.88,[-1.22,-.98,-.72,-.42,-.22,.3,.72,1.0,1.42,1.62]],[.68,[-1.58,-1.38,-1.04,-.6,-.28,.18,.42,.66,1.1,1.48,1.7]],[.6,[-1.48,-.98,-.78,-.32,-.16,.32,.98,1.25,1.62]],[.42,[-1.55,-1.38,-1.22,-.98,-.78,-.48,-.12,.1,.4,.7,.82,1.17,1.68]],[.35,[-1.63,-1.1,-.92,-.58,.22,.36,.92,1.15,1.28,1.42,1.6,1.72]],[.28,[-1.55,-1.28,-1.05,-.82,-.64,-.25,-.05,.15,.3,.45,.75,.88,1.02,1.2,1.32,1.55,1.64]],[.2,[-1.48,-1.38,-.95,-.72,-.5,-.4,-.2,0,.28,.36,.6,.72,.95,1.05,1.25,1.38,1.52,1.72]],[.12,[-1.7,-1.52,-1.28,-1.0,-.92,-.62,-.55,-.28,-.12,.24,.42,.68,.96,1.22,1.3,1.45,1.7]],[.05,[-1.58,-1.42,-1.2,-.85,-.52,-.44,-.16,.05,.3,.95,1.05,1.15,1.3,1.38,1.5,1.65]],[-.02,[-1.66,-1.48,-1.3,-.7,-.32,-.1,.3,.6,.82,.92,1.02,1.28,1.58,1.74]],[-.1,[-1.58,-1.5,-1.3,-.8,-.55,-.08,.03,.32,.6,.82,.9,1.18,1.28,1.45,1.62]],[-.17,[-1.42,-1.35,-.95,-.65,-.45,-.28,-.02,.12,.36,.5,.78,.92,1.16,1.22,1.3]],[-.24,[-1.22,-.98,-.68,-.48,-.35,-.14,.02,.3,.7,.8,.92,1.25,1.35,1.58,1.64]],[-.3,[-1.28,-.9,-.82,-.62,-.18,-.1,.15,.52,.56,.72,.82,1.02,1.32,1.48,1.7]],[-.38,[-1.35,-.9,-.74,-.28,-.1,.05,.23,.42,.5,.66,.84,1.04,1.2,1.35,1.45]],[-.45,[-1.62,-1.3,-.98,-.76,-.6,-.3,-.16,-.02,.42,.5,.72,.9,1.2,1.3,1.5]],[-.54,[-1.02,-.88,-.72,-.65,-.5,-.42,-.18,.24,.42,.62,.72,.98,1.12,1.3,1.42,1.6]],[-.62,[-1.12,-.88,-.76,-.62,-.5,-.35,-.22,.55,.68,.85,1.22,1.35,1.52,1.7]],[-.7,[-1.32,-1.12,-.84,-.7,-.48,-.2,.05,.42,.6,.88,1.1,1.18,1.42,1.55]],[-.8,[-1.52,-1.42,-1.2,-.8,-.72,-.58,-.42,-.14,.08,.34,.55,.7,.85,1.12,1.3,1.42,1.52]],[-.88,[-1.5,-1.38,-1.02,-.96,-.8,-.66,-.5,-.35,-.25,-.1,.18,.42,.7,.82,1.02,1.28,1.6]],[-.96,[-1.42,-1.15,-1.02,-.86,-.72,-.52,-.2,-.12,.35,.5,.75,.94,1.17,1.25]],[-1.04,[-1.38,-1.25,-1.15,-.75,-.62,-.35,-.22,-.08,.25,.42,.88,.98,1.3,1.45]],[-1.12,[-1.58,-1.42,-1.32,-.98,-.82,-.68,-.52,-.42,-.18,-.08,.42,.92,1.12,1.18,1.35]],[-1.2,[-1.52,-1.4,-1.18,-1.02,-.9,-.72,-.55,-.3,-.1,.28,.55,.82,.92,1.02,1.32,1.5]],[-1.28,[-1.35,-1.22,-1.08,-.88,-.78,-.62,-.45,-.22,-.08,.32,.55,.72,.88,1.25,1.5,1.72]],[-1.35,[-1.5,-1.28,-1.12,-.82,-.7,-.55,-.38,-.22,-.12,.4,.5,.75,.95,1.08,1.48]],[-1.43,[-1.48,-1.3,-1.18,-.98,-.85,-.65,-.55,-.28,-.02,.3,.42,.78,.88,1.12,1.42,1.7]],[-1.5,[-1.58,-1.35,-.92,-.75,-.58,-.42,-.28,-.12,.06,.42,.65,.82,1.25,1.45,1.65]],[-1.58,[-1.42,-1.12,-.92,-.7,-.55,-.3,-.18,0,.4,.7,.9,1.48,1.62,1.7]]];
const blobs5Blue=[[-0.69,0.66],[-0.65,0.38],[-0.58,1.0],[-0.57,0.7],[-0.59,0.45],[-0.58,0.33],[-0.51,0.95],[-0.52,0.75],[-0.48,1.39],[-0.49,0.13],[-0.42,1.3],[-0.42,1.1],[-0.42,0.05],[-0.37,1.2],[-0.35,0.18],[-0.33,1.33],[-0.32,0],[-0.28,1.25],[-0.27,0.05],[-0.2,-0.08],[-0.17,1.4],[-0.15,1.25],[-0.13,0],[-0.1,1.47],[-0.1,-0.15],[-0.05,1.4],[-0.07,-0.02],[-0.03,1.25],[0.01,-0.16],[0.03,1.22],[0.03,-0.03],[0.1,1.3],[0.12,1.1],[0.2,1.03],[0.2,0.05],[0.25,0.2],[0.29,1.0],[0.29,0.1],[0.31,0.78],[0.32,0.5],[0.35,0.38],[0.37,0.25],[0.4,0.53],[0.44,0.47]];
const blobs5BlueRows=[[1.12,[-.3,-.22,-.14,-.06,.02,.1]],[1.0,[-.38,-.3,-.22,-.14,-.06,.02,.1,.16,.22]],[.88,[-.42,-.34,-.26,-.18,-.1,-.02,.06,.14,.22,.26]],[.76,[-.48,-.4,-.32,-.24,-.16,-.08,0,.08,.16,.24,.3]],[.64,[-.52,-.44,-.36,-.28,-.2,-.12,-.04,.04,.12,.2,.28]],[.52,[-.52,-.44,-.36,-.28,-.2,-.12,-.04,.04,.12,.2,.28]],[.4,[-.5,-.42,-.34,-.26,-.18,-.1,-.02,.06,.14,.22,.28]],[.28,[-.38,-.3,-.22,-.14,-.06,.02,.1,.18,.24]],[.16,[-.36,-.28,-.2,-.12,-.04,.04,.12,.18]],[.06,[-.3,-.22,-.14,-.06,.02,.1]],[1.06,[-.34,-.26,-.18,-.1,-.02,.06,.14]],[.94,[-.38,-.3,-.22,-.14,-.06,.02,.1,.18]],[.82,[-.46,-.38,-.3,-.22,-.14,-.06,.02,.1,.18,.25]],[.7,[-.5,-.42,-.34,-.26,-.18,-.1,-.02,.06,.14,.22,.29]],[.58,[-.48,-.4,-.32,-.24,-.16,-.08,0,.08,.16,.24]],[.46,[-.46,-.38,-.3,-.22,-.14,-.06,.02,.1,.18,.26]],[.34,[-.44,-.36,-.28,-.2,-.12,-.04,.04,.12,.2,.27]],[.22,[-.32,-.24,-.16,-.08,0,.08,.16,.22]],[.11,[-.32,-.24,-.16,-.08,0,.08,.16]]];
const blobs5Green=[[0.76,1.0],[0.77,0.83],[0.81,0.8],[0.77,0.49],[0.81,1.05],[0.84,0.75],[0.83,0.33],[0.89,0.48],[0.86,0.28],[0.89,1.17],[0.9,1.25],[0.92,0.1],[0.94,0.25],[0.96,0.18],[0.99,1.3],[1.0,1.4],[1.08,-0.05],[1.1,0.1],[1.15,1.45],[1.17,0.18],[1.25,1.45],[1.25,0.1],[1.3,1.55],[1.32,0.08],[1.34,-0.03],[1.35,1.3],[1.37,1.45],[1.39,1.63],[1.42,1.78],[1.48,0.3],[1.5,1.25],[1.51,1.68],[1.57,0.08],[1.58,0.28],[1.6,1.28],[1.66,1.15],[1.68,1.23],[1.7,0.95],[1.68,0.45],[1.72,0.3],[1.73,0.78],[1.76,0.6],[1.78,0.38],[1.84,0.9],[1.89,0.48],[1.62,0.95],[1.62,0.75]];
const blobs5GreenRows=[[1.24,[1.06,1.14,1.22,1.3,1.38,1.46]],[1.12,[.98,1.06,1.14,1.22,1.3,1.38,1.46,1.52]],[1.0,[.94,1.02,1.1,1.18,1.26,1.34,1.42,1.5,1.58]],[.88,[.96,1.04,1.12,1.2,1.28,1.36,1.44,1.52,1.6]],[.76,[.92,1,1.08,1.16,1.24,1.32,1.4,1.48,1.56,1.62]],[.64,[.9,.98,1.06,1.14,1.22,1.3,1.38,1.46,1.54,1.62]],[.52,[.96,1.04,1.12,1.2,1.28,1.36,1.44,1.52,1.6]],[.4,[1,1.08,1.16,1.24,1.32,1.4,1.48,1.56]],[.28,[1.06,1.14,1.22,1.3,1.38,1.46]],[.16,[1.14,1.22,1.3,1.38]],[1.18,[1.02,1.1,1.18,1.26,1.34,1.42,1.5]],[1.06,[.98,1.06,1.14,1.22,1.3,1.38,1.46,1.54]],[.94,[1,1.08,1.16,1.24,1.32,1.4,1.48,1.56]],[.82,[.96,1.04,1.12,1.2,1.28,1.36,1.44,1.52,1.6]],[.7,[.96,1.04,1.12,1.2,1.28,1.36,1.44,1.52,1.6]],[.58,[1,1.08,1.16,1.24,1.32,1.4,1.48,1.56,1.64]],[.46,[1.04,1.12,1.2,1.28,1.36,1.44,1.52]],[.34,[1.04,1.12,1.2,1.28,1.36,1.44,1.52]],[.22,[1.1,1.18,1.26,1.34,1.42]]];
const blobs5Yellow=[[-1.69,-1.08],[-1.67,-0.86],[-1.68,-1.75],[-1.61,-0.92],[-1.57,-1.05],[-1.58,-1.62],[-1.58,-1.77],[-1.56,-0.82],[-1.5,-0.95],[-1.48,-0.76],[-1.39,-1.92],[-1.4,-0.74],[-1.33,-2.23],[-1.31,-0.7],[-1.27,-0.62],[-1.27,-2.03],[-1.24,-2.23],[-1.2,-0.65],[-1.2,-2.15],[-1.13,-0.66],[-1.05,-0.48],[-1.03,-0.62],[-1.03,-2.07],[-0.98,-0.7],[-0.98,-2.13],[-0.92,-0.88],[-0.9,-1.86],[-0.85,-0.75],[-0.82,-2.0],[-0.8,-1.8],[-0.76,-0.85],[-0.74,-1.85],[-0.7,-1.88],[-0.69,-1.05],[-0.67,-1.6],[-0.66,-1.14],[-0.65,-1.7],[-0.65,-1.02],[-0.64,-1.6],[-0.58,-1.28],[-0.51,-1.03],[-0.67,-1.42],[-0.76,-0.82],[-1.12,-1.92],[-1.3,-1.85],[-1.45,-1.75]];
const blobs5YellowRows=[[-.8,[-1.22,-1.14,-1.06,-.98]],[-.92,[-1.36,-1.28,-1.2,-1.12,-1.04,-.96,-.88]],[-1.04,[-1.3,-1.22,-1.14,-1.06,-.98,-.9,-.82]],[-1.16,[-1.42,-1.34,-1.26,-1.18,-1.1,-1.02,-.94,-.86,-.78]],[-1.28,[-1.52,-1.44,-1.36,-1.28,-1.2,-1.12,-1.04,-.96,-.88,-.8]],[-1.4,[-1.5,-1.42,-1.34,-1.26,-1.18,-1.1,-1.02,-.94,-.86,-.78]],[-1.52,[-1.46,-1.38,-1.3,-1.22,-1.14,-1.06,-.98,-.9,-.82,-.74]],[-1.64,[-1.4,-1.32,-1.24,-1.16,-1.08,-1,-.92,-.84,-.76]],[-1.76,[-1.36,-1.28,-1.2,-1.12,-1.04,-.96,-.88,-.8]],[-1.86,[-1.24,-1.16,-1.08,-1,-.94]],[-.86,[-1.32,-1.24,-1.16,-1.08,-1,-.92]],[-.98,[-1.26,-1.18,-1.1,-1.02,-.94,-.86]],[-1.1,[-1.38,-1.3,-1.22,-1.14,-1.06,-.98,-.9,-.82]],[-1.22,[-1.46,-1.38,-1.3,-1.22,-1.14,-1.06,-.98,-.9,-.82]],[-1.34,[-1.48,-1.4,-1.32,-1.24,-1.16,-1.08,-1,-.92,-.84,-.76]],[-1.46,[-1.46,-1.38,-1.3,-1.22,-1.14,-1.06,-.98,-.9,-.82,-.74]],[-1.58,[-1.42,-1.34,-1.26,-1.18,-1.1,-1.02,-.94,-.86,-.78]],[-1.7,[-1.32,-1.24,-1.16,-1.08,-1,-.92,-.84]],[-1.81,[-1.3,-1.22,-1.14,-1.06,-.98,-.9]]];
const blobs5Violet=[[-1.34,-2.5],[-1.03,-2.33],[-0.94,-2.23],[-1.53,-2.05],[-1.68,-0.48],[-0.87,-0.4],[-0.82,-0.47],[-0.56,-0.85],[-0.5,-0.83],[-0.56,-1.2],[-0.4,1.6],[-0.38,1.62],[-0.62,1.17],[-0.73,1.04],[-0.72,0.67],[-0.92,0.46],[-0.86,0.37],[-0.81,0.15],[-0.65,-0.07],[-0.56,0.12],[-0.14,-0.32],[0.1,1.44],[0.18,1.49],[0.23,1.23],[0.28,1.24],[0.4,1.16],[0.65,0.56],[0.68,0.47],[0.64,0.41],[0.83,-0.09],[0.86,-0.18],[0.95,-0.33],[1.22,-0.23],[1.37,-0.27],[1.49,-0.09],[1.52,1.49],[1.69,-0.05],[1.75,-0.06],[1.93,0.49],[2.09,-0.05]];
const blobs6Blue=[[-0.74,1.72],[-0.68,1.62],[-0.64,1.5],[-0.6,1.72],[-0.58,1.6],[-0.5,1.7],[-0.6,1.45],[-0.55,1.5],[-0.52,1.43],[-0.63,1.25],[-0.57,1.2],[-0.44,1.55],[-0.42,1.38],[-0.46,1.32],[-0.72,1.1],[-0.55,1.05],[-0.56,0.95],[-0.58,0.9],[-0.53,0.9],[-0.55,0.78],[-0.44,0.93],[-0.37,1.73],[-0.31,1.78],[-0.36,1.5],[-0.34,1.38],[-0.3,1.6],[-0.27,1.45],[-0.24,1.6],[-0.29,1.3],[-0.24,1.25],[-0.2,1.4],[-0.17,1.35],[-0.33,1.15],[-0.31,1.0],[-0.35,0.95],[-0.28,0.95],[-0.26,0.8],[-0.27,0.65],[-0.3,0.6],[-0.25,0.5],[-0.2,0.65],[-0.22,1.05],[-0.18,1.02],[-0.12,1.0],[-0.1,1.68],[-0.03,1.7],[-0.1,1.5],[-0.05,1.35],[-0.08,1.2],[-0.03,1.15],[-0.16,0.85],[-0.08,0.9],[-0.12,0.75],[-0.15,0.55],[-0.07,0.5],[-0.02,0.45],[-0.18,0.43],[-0.1,0.42],[0,0.65],[0.05,0.75],[0.03,0.37],[0.02,1.0],[0.05,1.3],[0.08,1.2],[0.05,1.55],[0.08,1.65],[0.12,1.5],[0.15,1.75],[0.2,1.65],[0.13,0.45],[0.1,0.35],[0.13,0.22],[0.15,0.25],[0.2,0.5],[0.22,0.35],[0.27,0.35],[0.22,1.8],[0.3,1.7],[0.32,1.78],[0.25,1.5],[0.38,1.55],[0.37,1.78],[0.42,1.78],[0.42,1.45],[0.45,1.6],[0.42,0.45],[0.35,0.5],[0.38,0.4],[0.52,1.85],[0.49,1.84],[0.48,1.35],[0.52,1.05],[0.5,0.65],[0.45,0.22],[0.52,0.21],[0.55,1.65],[0.55,1.3],[0.55,0.85],[0.58,0.7],[0.58,0.45],[0.6,0.22],[0.62,1.55],[0.62,1.3],[0.6,1.05],[0.65,0.95],[0.64,0.62],[0.68,1.68],[0.68,1.35],[0.68,0.8],[0.7,1.1],[0.72,0.52],[0.75,1.3],[0.78,1.1],[0.78,1.6],[0.78,0.7],[0.82,1.45],[0.8,0.9],[0.85,1.15],[0.85,1.3],[0.86,0.75],[0.88,1.25],[0.9,1.58],[0.9,0.9],[0.95,1.1],[1.03,1.65],[1.05,1.1],[1.05,0.97],[1.1,0.97],[1.1,1.17],[1.12,1.14],[1.16,1.3],[1.24,1.18],[1.18,0.65],[0.65,0.12],[0.62,0.0],[0.65,-0.1],[0.7,-0.1],[0.75,0.4],[1.01,-0.33],[1.18,-0.25],[1.22,-0.2],[1.41,-0.12],[1.42,0.07],[1.47,-0.05],[1.5,0.32],[1.5,-0.05],[1.57,0.2],[1.58,0.13],[1.38,0.42],[1.42,0.25],[0.88,0.55],[0.96,0.62],[1.05,0.6],[-0.5,0.4]];
const blobs6BlueRows=[[1.35,[-.02,.06,.14,.22,.3,.38,.46]],[1.25,[0,.08,.16,.24,.32,.4,.48,.56]],[1.15,[.04,.12,.2,.28,.36,.44,.52]],[1.05,[-.02,.06,.14,.22,.3,.38,.46,.54]],[.95,[.06,.14,.22,.3,.38,.46]],[.85,[.06,.14,.22,.3,.38,.46]],[.72,[-.02,.1,.2,.34,.42]],[.6,[-.05,.08,.16,.26,.38]],[.45,[.76,.84,.92,1,1.08,1.16,1.24,1.32]],[.36,[.8,.88,.96,1.04,1.12,1.2,1.28,1.36]],[.27,[.72,.8,.88,.96,1.04,1.12,1.2,1.28,1.36,1.44]],[.18,[.7,.78,.86,.94,1.02,1.1,1.18,1.26,1.34,1.4]],[.09,[.68,.76,.84,.92,1,1.08,1.16,1.24,1.32,1.38]],[0,[.72,.8,.88,.96,1.04,1.12,1.2,1.28,1.34]],[-.09,[.78,.86,.94,1.02,1.1,1.18,1.26]],[-.18,[.92,1,1.08,1.16,1.24]],[.4,[.84,.92,1,1.08,1.16,1.24,1.32]],[.31,[.76,.84,.92,1,1.08,1.16,1.24,1.32,1.4]],[.22,[.75,.83,.91,.99,1.07,1.15,1.23,1.31,1.39]],[.13,[.73,.81,.89,.97,1.05,1.13,1.21,1.29,1.36]],[.04,[.72,.8,.88,.96,1.04,1.12,1.2,1.28]],[-.05,[.76,.84,.92,1,1.08,1.16,1.24,1.3]],[-.14,[.84,.96,1.04,1.12,1.2]],[1.3,[.04,.12,.2,.28,.36,.44,.52]],[1.2,[.02,.1,.18,.26,.34,.42,.5]],[1.1,[.08,.16,.24,.32,.4,.48]],[1,[.1,.18,.26,.34,.42,.5]],[.9,[.1,.18,.26,.34,.42]]];
const blobs6Teal=[[-1.58,-1.32],[-1.46,-1.15],[-1.37,-1.47],[-1.35,-1.02],[-1.3,-1.0],[-1.29,-1.55],[-1.26,-1.0],[-1.22,-1.5],[-1.18,-0.93],[-1.15,-1.45],[-1.07,-1.05],[-1.04,-1.18],[-0.95,-1.2],[-1.24,-1.48]];
const blobs6TealRows=[[-1.12,[-1.42,-1.36,-1.3,-1.24,-1.18,-1.12]],[-1.2,[-1.46,-1.4,-1.34,-1.28,-1.22,-1.16,-1.1,-1.06]],[-1.28,[-1.48,-1.42,-1.36,-1.3,-1.24,-1.18,-1.12,-1.08]],[-1.36,[-1.44,-1.38,-1.32,-1.26,-1.2,-1.14,-1.1]],[-1.43,[-1.36,-1.3,-1.24,-1.18]]];
const blobs6Green=[[-0.25,1.98],[-0.25,1.9],[-0.14,1.94],[-0.09,2.03],[-0.06,1.96],[-0.03,1.93],[0.13,1.99]];
const blobs6Yellow=[[0.81,1.87],[0.81,1.8],[0.94,1.77]];
const blobs6Violet=[[-0.93,0.36],[-0.84,0.77],[-0.68,0.62],[-0.5,0.5],[-0.18,0.2],[-0.07,0.11],[0.15,-0.12],[0.21,2.13],[0.37,1.98],[0.65,2.18],[1.14,1.41],[1.23,1.57],[1.45,1.74],[1.43,1.34],[1.42,1.05],[1.5,0.92],[1.75,0.89],[1.95,0.97]];

const fromRows=r=>r.flatMap(([y,xs])=>xs.map(x=>[x,y]));
const tk=(a,b,s)=>{const r=[];for(let i=0;i*s+a<=b+1e-9;i++)r.push(+(a+i*s).toFixed(2));return r;};
const panels=[
 {pos:[53,99],xr:[-2.157,2.115],yr:[-2.11,2.2],xt:tk(-2,2,0.5),yt:tk(-2,2,0.5),xd:1,yd:1,s:[[circlesOuter,VIOLET],[[...circlesInner,...fromRows(circlesInnerRows)],YELLOW]]},
 {pos:[792,99],xr:[-2.06,2.017],yr:[-1.989,1.983],xt:tk(-2,2,0.5),yt:tk(-1.5,1.5,0.5),xd:1,yd:1,s:[[[...moonYellow,...fromRows(moonYellowRows)],YELLOW],[[...moonViolet,...fromRows(moonVioletRows)],VIOLET]]},
 {pos:[1530,99],xr:[-1.977,1.357],yr:[-1.893,1.715],xt:tk(-1.5,1,0.5),yt:tk(-1.5,1.5,0.5),xd:1,yd:1,s:[[[...blobs3Violet,...fromRows(blobs3VioletRows)],VIOLET],[[...blobs3Teal,...fromRows(blobs3TealRows)],TEAL],[[...blobs3Yellow,...fromRows(blobs3YellowRows)],YELLOW]]},
 {pos:[53,477],xr:[-1.907,1.923],yr:[-1.855,1.94],xt:tk(-1.5,1.5,0.5),yt:tk(-1.5,1.5,0.5),xd:1,yd:1,s:[[[...uniformPts,...fromRows(uniformRows)],VIOLET]]},
 {pos:[792,477],xr:[-1.878,2.276],yr:[-2.708,1.97],xt:tk(-1.5,2,0.5),yt:[-2,-1,0,1],xd:1,yd:0,s:[[blobs5Violet,VIOLET],[[...blobs5Blue,...fromRows(blobs5BlueRows)],BLUE5],[[...blobs5Green,...fromRows(blobs5GreenRows)],GREEN5],[[...blobs5Yellow,...fromRows(blobs5YellowRows)],YELLOW]]},
 {pos:[1530,477],xr:[-1.756,2.137],yr:[-1.743,2.365],xt:tk(-1.5,2,0.5),yt:tk(-1.5,2,0.5),xd:1,yd:1,s:[[blobs6Violet,VIOLET],[[...blobs6Blue,...fromRows(blobs6BlueRows)],BLUE6],[[...blobs6Teal,...fromRows(blobs6TealRows)],TEAL],[blobs6Green,GREEN6],[blobs6Yellow,YELLOW]]}
];
const fmt=d=>v=>Number(v).toFixed(d).replace('-','\u2212');
const axisCommon=(r,t,d)=>({type:'value',min:r[0],max:r[1],splitLine:{show:false},axisLine:{show:false,onZero:false},
  axisTick:{show:true,length:4.9,lineStyle:{color:'#000',width:1.1},customValues:t},
  axisLabel:{show:true,color:'#000',fontFamily:'DejaVu Sans',fontSize:13.9,margin:6,formatter:fmt(d),customValues:t}});
const option={animation:false,backgroundColor:'#fff',
 title:{text:titleText,left:1081,top:3,textAlign:'center',textStyle:{fontFamily:'DejaVu Sans',fontSize:76,fontWeight:'normal',color:'#000'}},
 grid:panels.map(p=>({left:p.pos[0],top:p.pos[1],width:615,height:315,show:true,borderColor:'#000',borderWidth:1.1,backgroundColor:'#fff'})),
 xAxis:panels.map((p,i)=>({gridIndex:i,...axisCommon(p.xr,p.xt,p.xd)})),
 yAxis:panels.map((p,i)=>({gridIndex:i,...axisCommon(p.yr,p.yt,p.yd)})),
 series:panels.flatMap((p,i)=>p.s.map(([d,c])=>({type:'scatter',xAxisIndex:i,yAxisIndex:i,data:d,symbolSize:10,itemStyle:{color:c,opacity:1},silent:true,large:false})))
};
echarts.init(document.getElementById('c'),null,{renderer:'canvas'}).setOption(option);
</script></body></html>
